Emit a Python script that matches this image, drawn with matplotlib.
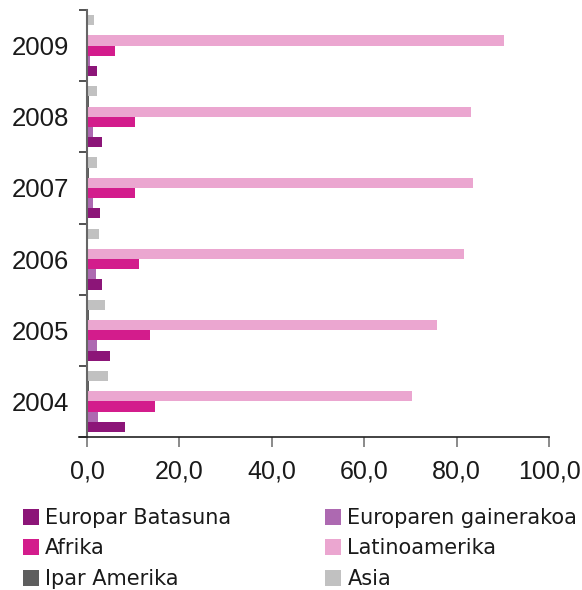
import matplotlib
matplotlib.use("Agg")
import matplotlib.pyplot as plt
import numpy as np
from matplotlib.patches import Patch
from matplotlib.ticker import FixedLocator, FuncFormatter

plt.rcParams['font.family'] = ['Liberation Sans', 'DejaVu Sans']

years = ["2004", "2005", "2006", "2007", "2008", "2009"]
series_names = ["Europar Batasuna", "Europaren gainerakoa", "Afrika",
                "Latinoamerika", "Ipar Amerika", "Asia"]
europar_batasuna = [8.2, 5.0, 3.25, 2.8, 3.25, 2.2]
europaren_gainerakoa = [2.4, 2.2, 1.95, 1.3, 1.3, 0.65]
afrika = [14.75, 13.7, 11.3, 10.4, 10.4, 6.1]
latinoamerika = [70.3, 75.7, 81.6, 83.5, 83.1, 90.2]
ipar_amerika = [0.35, 0.35, 0.2, 0.35, 0.35, 0.3]
asia = [4.55, 3.9, 2.6, 2.2, 2.2, 1.5]
xticks = [0, 20, 40, 60, 80, 100]

colors = ["#8c1578", "#ad69b1", "#d31c8c", "#eba6d0", "#5e5e5e", "#c1c1c1"]
data = [europar_batasuna, europaren_gainerakoa, afrika, latinoamerika, ipar_amerika, asia]

fig = plt.figure(figsize=(5.82, 5.90), dpi=100)
ax = fig.add_axes([87/582, 1-437/590, (549-87)/582, (437-10)/590])

n = len(data)
bh = 0.143
y = np.arange(len(years))
for i, (vals, c) in enumerate(zip(data, colors)):
    offs = (i - (n-1)/2) * bh
    ax.barh(y + offs, vals, height=bh, color=c, edgecolor='none', zorder=2)

ax.set_xlim(0, 100)
ax.set_ylim(-0.5, len(years) - 0.5)
ax.set_xticks(xticks)
ax.xaxis.set_major_formatter(FuncFormatter(lambda v, p: f"{v:.1f}".replace('.', ',')))
ax.tick_params(axis='x', length=7, width=1.2, color='#777777', labelsize=18, pad=9, labelcolor='#1a1a1a')

ax.yaxis.set_major_locator(FixedLocator(np.arange(-0.5, len(years), 1.0)))
ax.yaxis.set_major_formatter(FuncFormatter(lambda v, p: ""))
ax.yaxis.set_minor_locator(FixedLocator(y))
ax.set_yticklabels(years, minor=True)
ax.tick_params(axis='y', which='major', length=6, width=1.2, color='#333333')
ax.tick_params(axis='y', which='minor', length=0, labelsize=18.5, pad=13, labelcolor='#1a1a1a')

for s in ['top', 'right']:
    ax.spines[s].set_visible(False)
ax.spines['left'].set_color('#666666')
ax.spines['left'].set_linewidth(1.5)
ax.spines['bottom'].set_color('#222222')
ax.spines['bottom'].set_linewidth(1.2)
ax.spines['bottom'].set_bounds(-1.8, 100)

handles = [Patch(facecolor=c, edgecolor='none') for c in colors]
order = [0, 2, 4, 1, 3, 5]
fig.legend([handles[i] for i in order], [series_names[i] for i in order],
           ncol=2, loc='upper left', bbox_to_anchor=(23/582, 1 - 508/590),
           frameon=False, prop={'family': 'DejaVu Sans', 'size': 15},
           handlelength=0.77, handleheight=0.8,
           handletextpad=0.3, columnspacing=4.5, labelspacing=0.5,
           borderaxespad=0.0, borderpad=0.0, labelcolor='#1a1a1a')

fig.savefig("out.png", dpi=100)
